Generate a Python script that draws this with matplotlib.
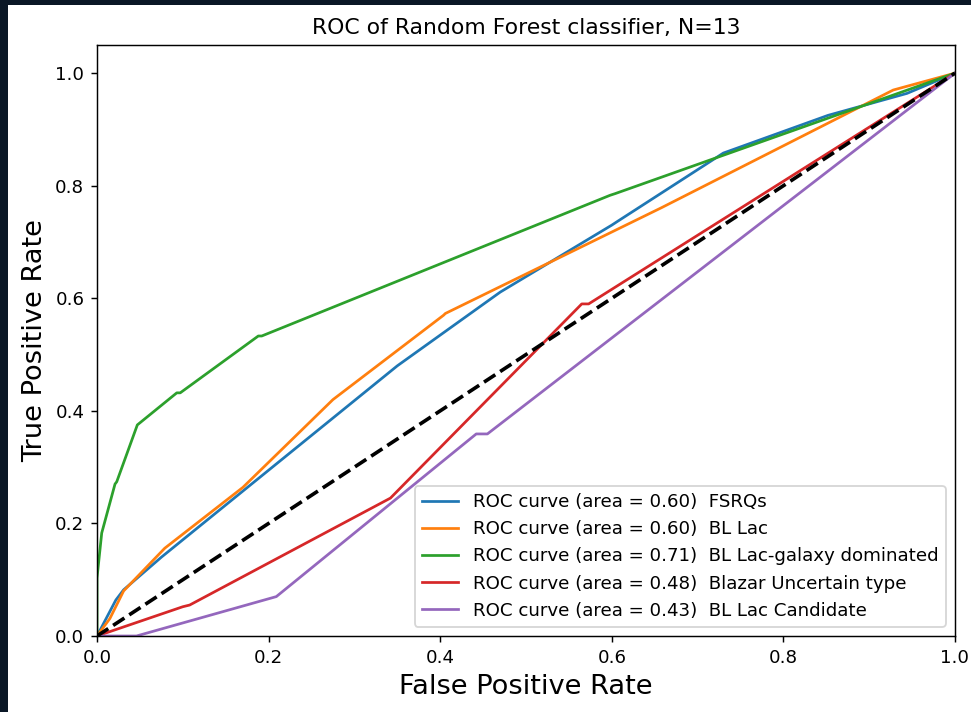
import numpy as np
import matplotlib.pyplot as plt
from matplotlib.patches import Rectangle

# ROC points per class (fpr, tpr)
fpr_fsrq = [0.0, 0.022, 0.031, 0.075, 0.35, 0.47, 0.60, 0.606, 0.73, 0.852, 0.944, 1.0]
tpr_fsrq = [0.0, 0.064, 0.082, 0.140, 0.48, 0.611, 0.730, 0.736, 0.858, 0.925, 0.964, 1.0]

fpr_bll = [0.0, 0.015, 0.031, 0.079, 0.17, 0.275, 0.404, 0.406, 0.658, 0.928, 1.0]
tpr_bll = [0.0, 0.031, 0.080, 0.156, 0.264, 0.420, 0.570, 0.573, 0.761, 0.970, 1.0]

fpr_gal = [0.0, 0.0, 0.0055, 0.021, 0.023, 0.047, 0.093, 0.097, 0.188, 0.192, 0.598, 0.604, 1.0]
tpr_gal = [0.0, 0.103, 0.183, 0.270, 0.274, 0.375, 0.432, 0.432, 0.533, 0.533, 0.783, 0.786, 1.0]

fpr_bcu = [0.0, 0.100, 0.108, 0.342, 0.565, 0.573, 1.0]
tpr_bcu = [0.0, 0.052, 0.055, 0.245, 0.590, 0.590, 1.0]

fpr_cand = [0.0, 0.046, 0.209, 0.442, 0.455, 1.0]
tpr_cand = [0.0, 0.0, 0.070, 0.359, 0.359, 1.0]

class_names = ['FSRQs', 'BL Lac', 'BL Lac-galaxy dominated',
               'Blazar Uncertain type', 'BL Lac Candidate']
roc_auc = [0.60, 0.60, 0.71, 0.48, 0.43]

fprs = [fpr_fsrq, fpr_bll, fpr_gal, fpr_bcu, fpr_cand]
tprs = [tpr_fsrq, tpr_bll, tpr_gal, tpr_bcu, tpr_cand]

DPI = 131
fig = plt.figure(figsize=(971 / DPI, 712 / DPI), dpi=DPI, facecolor='#0a1726')
# white canvas sitting on the dark desktop
fig.patches.append(Rectangle((8 / 971, 0), 1, 1 - 5 / 712, transform=fig.transFigure,
                             facecolor='white', edgecolor='none', zorder=-10))

ax = fig.add_axes([97 / 971, 1 - 636 / 712, (955 - 97) / 971, (636 - 45) / 712])

for i in range(len(class_names)):
    ax.plot(fprs[i], tprs[i], lw=1.5,
            label='ROC curve (area = %0.2f)  %s' % (roc_auc[i], class_names[i]))

ax.plot([0, 1], [0, 1], 'k--', lw=2)
ax.set_xlim([0.0, 1.0])
ax.set_ylim([0.0, 1.05])
ax.set_xlabel('False Positive Rate', fontsize=15)
ax.set_ylabel('True Positive Rate', fontsize=15)
ax.set_title('ROC of Random Forest classifier, N=13', fontsize=12)
ax.legend(loc='lower right')

fig.savefig('out.png', dpi=DPI, facecolor=fig.get_facecolor())
